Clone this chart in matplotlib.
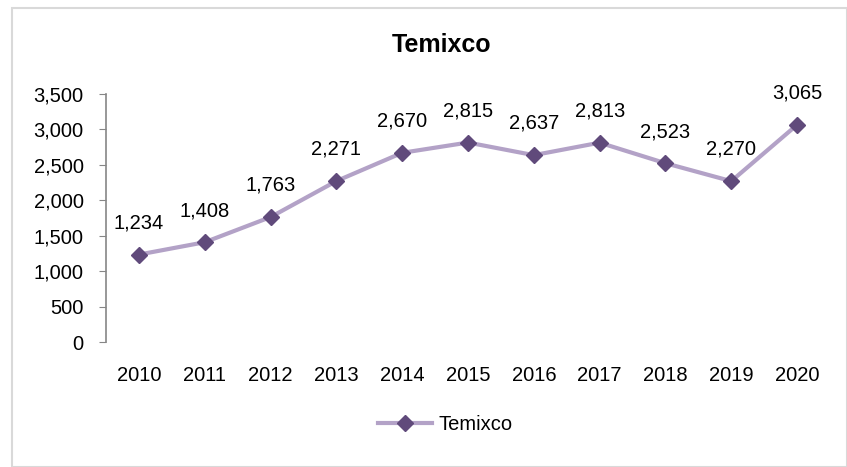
import matplotlib.pyplot as plt
from matplotlib.patches import Rectangle

years = ["2010", "2011", "2012", "2013", "2014", "2015", "2016", "2017", "2018", "2019", "2020"]
values = [1234, 1408, 1763, 2271, 2670, 2815, 2637, 2813, 2523, 2270, 3065]
yticks = [0, 500, 1000, 1500, 2000, 2500, 3000, 3500]

plt.rcParams['font.family'] = ['Liberation Sans', 'DejaVu Sans']

fig = plt.figure(figsize=(8.47, 4.67), dpi=100)
W, H = 847, 467
# border
fig.patches.append(Rectangle((12 / W, 0.5 / H), (W - 12.5) / W, (H - 8.5) / H,
                             transform=fig.transFigure, fill=False,
                             edgecolor='#d9d9d9', linewidth=1.5))

ax = fig.add_axes([106 / W, 1 - 342 / H, (830 - 106) / W, (342 - 94) / H])
x = list(range(len(years)))
ax.plot(x, values, color='#b3a2c7', linewidth=3, marker='D', markersize=8,
        markerfacecolor='#604a7b', markeredgecolor='#604a7b', label='Temixco', zorder=3)
for xi, v in zip(x, values):
    ax.annotate(f"{v:,}", (xi, v), xytext=(0, 16), textcoords='offset points',
                ha='center', va='bottom', fontsize=14.5, color='black')

ax.set_xlim(-0.5, len(years) - 0.5)
ax.set_ylim(0, 3500)
ax.set_yticks(yticks)
ax.set_yticklabels([f"{t:,}" for t in yticks], fontsize=14.5)
ax.set_xticks(x)
ax.set_xticklabels(years, fontsize=14.5)
ax.tick_params(axis='x', length=0, pad=17)
ax.tick_params(axis='y', length=5, color='#868686', direction='out', pad=11)
for s in ['top', 'right', 'bottom']:
    ax.spines[s].set_visible(False)
ax.spines['left'].set_color('#868686')
ax.spines['left'].set_linewidth(1.2)

fig.text(442 / W, 1 - 45 / H, 'Temixco', ha='center', va='center', fontsize=18, fontweight='bold')

leg = fig.legend(loc='center', bbox_to_anchor=(445 / W, 1 - 425 / H), frameon=False,
                 fontsize=14.5, handlelength=2.7, handletextpad=0.3)

fig.savefig('out.png', dpi=100)
